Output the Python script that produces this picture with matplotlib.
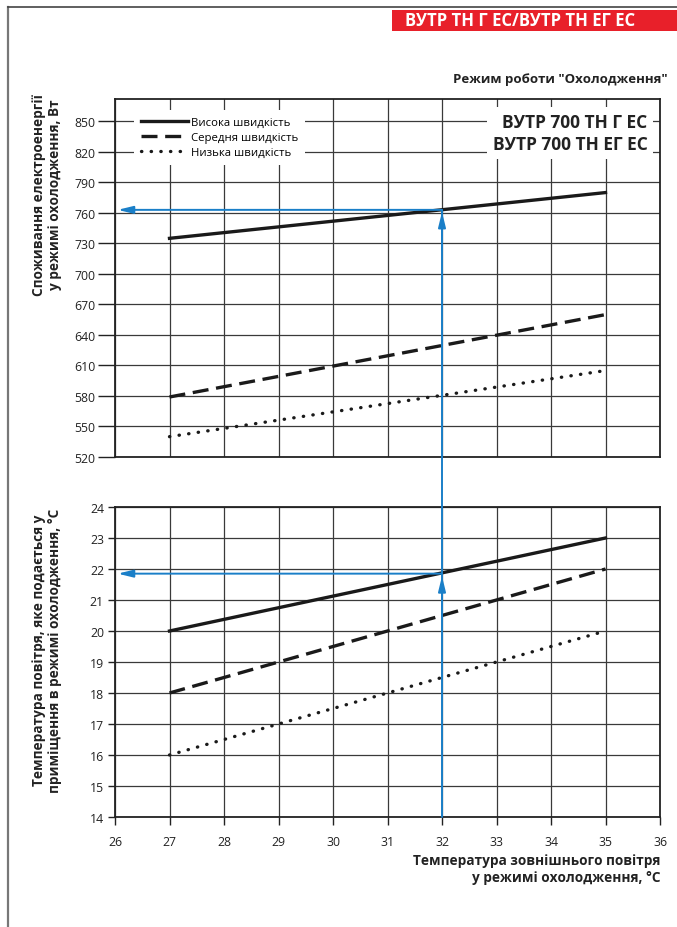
import matplotlib
matplotlib.use("Agg")
import matplotlib.pyplot as plt
from matplotlib.lines import Line2D
from matplotlib.patches import ConnectionPatch, Rectangle

plt.rcParams["font.family"] = ["Open Sans", "DejaVu Sans"]

# --- data ---
outdoor_t = [27, 35]
power_high = [735, 780]
power_mid = [579, 660]
power_low = [540, 605]
supply_high = [20, 23]
supply_mid = [18, 22]
supply_low = [16, 20]

series_labels = ["Висока швидкість", "Середня швидкість", "Низька швидкість"]
power_ticks = [520, 550, 580, 610, 640, 670, 700, 730, 760, 790, 820, 850]
supply_ticks = list(range(14, 25))
x_ticks = list(range(26, 37))

pick_x = 32
pick_power = 763
pick_supply = 21.85

BLUE = "#1a7fc8"
GRID = "#3a3a3a"
INK = "#222222"

fig = plt.figure(figsize=(6.77, 9.28), dpi=100)

# page frame + header
fig.add_artist(Line2D([8 / 677, 8 / 677], [0, 1 - 8 / 928], color="#777777", lw=1.6))
fig.add_artist(Line2D([8 / 677, 1], [1 - 8 / 928, 1 - 8 / 928], color="#444444", lw=1.2))
fig.add_artist(Rectangle((392 / 677, 1 - 32 / 928), 285 / 677, 21 / 928,
                         facecolor="#e8202a", edgecolor="none", transform=fig.transFigure))
fig.text(405 / 677, 1 - 21.5 / 928, "ВУТР ТН Г ЕС/ВУТР ТН ЕГ ЕС", color="white",
         fontsize=12, fontweight="bold", ha="left", va="center")
fig.text(668 / 677, 1 - 80 / 928, 'Режим роботи "Охолодження"', fontsize=9.5,
         fontweight="bold", ha="right", va="center", color=INK)

ax1 = fig.add_axes([115 / 677, 1 - 458 / 928, 545 / 677, 358 / 928])
ax2 = fig.add_axes([115 / 677, 1 - 818 / 928, 545 / 677, 310 / 928])

line_kw = dict(color="#1a1a1a", lw=2.4)
styles = [dict(ls="-"), dict(ls=(0, (4.8, 2.3)), dash_capstyle="butt"),
          dict(ls=(0, (0.1, 2.8)), dash_capstyle="round")]

for ax, ys in [(ax1, [power_high, power_mid, power_low]),
               (ax2, [supply_high, supply_mid, supply_low])]:
    for y, st, lab in zip(ys, styles, series_labels):
        ax.plot(outdoor_t, y, label=lab, zorder=3, **line_kw, **st)
    ax.set_xlim(26, 36)
    ax.set_xticks(x_ticks)
    ax.grid(True, color=GRID, lw=0.9)
    ax.set_axisbelow(True)
    for sp in ax.spines.values():
        sp.set_color(INK)
        sp.set_linewidth(1.3)
    ax.tick_params(colors=INK, labelsize=8.8, width=1)

ax1.set_ylim(520, 872)
ax1.set_yticks(power_ticks)
ax1.tick_params(axis="x", length=0, labelbottom=False)
ax1.tick_params(axis="y", length=12, pad=2)

ax2.set_ylim(14, 24)
ax2.set_yticks(supply_ticks)
ax2.tick_params(axis="y", length=5, pad=3)
ax2.tick_params(axis="x", length=6, pad=7)

leg = ax1.legend(loc="upper left", bbox_to_anchor=(0.025, 0.985), fontsize=8.2,
                 handlelength=4.1, handletextpad=0.25, labelspacing=0.35,
                 frameon=True, borderpad=0.6)
leg.get_frame().set_facecolor("white")
leg.get_frame().set_edgecolor("none")
leg.get_frame().set_alpha(1)
leg.set_zorder(5)

ax1.text(0.977, 0.905, "ВУТР 700 ТН Г ЕС\nВУТР 700 ТН ЕГ ЕС", transform=ax1.transAxes,
         ha="right", va="center", fontsize=12.5, fontweight="bold", color=INK,
         multialignment="right", linespacing=1.3, zorder=5,
         bbox=dict(facecolor="white", edgecolor="none", pad=4))

ax1.set_ylabel("Споживання електроенергії\nу режимі охолодження, Вт", fontsize=9.8,
               fontweight="bold", color=INK, linespacing=1.15)
ax2.set_ylabel("Температура повітря, яке подається у\nприміщення в режимі охолодження, °С",
               fontsize=9.8, fontweight="bold", color=INK, linespacing=1.15)
ax1.yaxis.set_label_coords(-0.098, 0.735)
ax2.yaxis.set_label_coords(-0.098, 0.54)
ax2.set_xlabel("Температура зовнішнього повітря\nу режимі охолодження, °С", fontsize=9.8,
               fontweight="bold", color=INK, ha="right", linespacing=1.3)
ax2.xaxis.set_label_coords(1.0, -0.115)

# blue reading guide
con = ConnectionPatch(xyA=(pick_x, 14), coordsA=ax2.transData,
                      xyB=(pick_x, pick_power), coordsB=ax1.transData,
                      color=BLUE, lw=1.4, zorder=4)
fig.add_artist(con)
arrow_kw = dict(arrowstyle="-|>,head_length=0.9,head_width=0.22", color=BLUE, lw=1.4,
                shrinkA=0, shrinkB=0)
ax1.annotate("", xy=(pick_x, pick_power - 2), xytext=(pick_x, pick_power - 40),
             arrowprops=arrow_kw, zorder=4)
ax1.annotate("", xy=(26.05, pick_power), xytext=(pick_x, pick_power),
             arrowprops=arrow_kw, zorder=4)
ax2.annotate("", xy=(pick_x, pick_supply - 0.08), xytext=(pick_x, pick_supply - 1.3),
             arrowprops=arrow_kw, zorder=4)
ax2.annotate("", xy=(26.05, pick_supply), xytext=(pick_x, pick_supply),
             arrowprops=arrow_kw, zorder=4)

fig.savefig("out.png", dpi=100)
